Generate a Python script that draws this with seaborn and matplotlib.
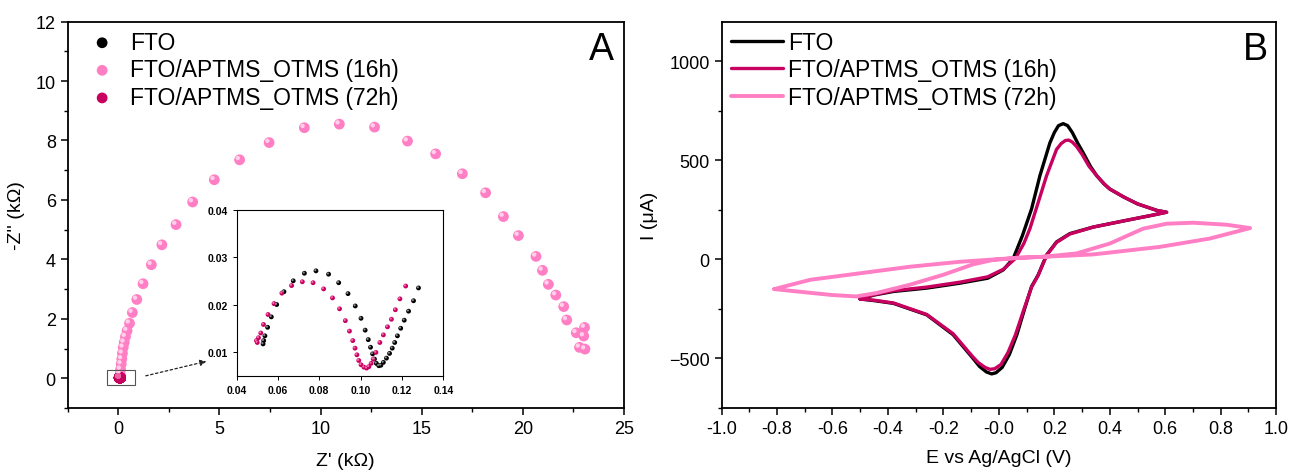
import numpy as np
import pandas as pd
import matplotlib.pyplot as plt
import seaborn as sns
from matplotlib.transforms import offset_copy
from matplotlib.patches import Rectangle
from matplotlib.ticker import MultipleLocator

sns.set_style("white")
plt.rcParams['font.family'] = ['Liberation Sans', 'DejaVu Sans']
plt.rcParams.update({'text.color': 'black', 'axes.labelcolor': 'black',
                     'xtick.color': 'black', 'ytick.color': 'black'})

labels = ["FTO", "FTO/APTMS_OTMS (16h)", "FTO/APTMS_OTMS (72h)"]
c_fto = "#000000"
c_16 = "#ff7ec4"
c_72 = "#c8005f"

# --- Nyquist data (kOhm) ---
z16_re = [0.10, 0.12, 0.15, 0.18, 0.21, 0.25, 0.30, 0.36, 0.44, 0.56, 0.70, 0.92, 1.23, 1.64,
          2.16, 2.86, 3.68, 4.75, 6.00, 7.46, 9.20, 10.93, 12.67, 14.30, 15.69, 17.01, 18.16,
          19.04, 19.78, 20.65, 20.97, 21.26, 21.63, 22.02, 22.17, 22.64, 23.05, 23.01, 22.80, 23.07]
z16_im = [0.15, 0.30, 0.48, 0.65, 0.84, 1.04, 1.21, 1.40, 1.60, 1.85, 2.21, 2.65, 3.18, 3.82,
          4.49, 5.17, 5.93, 6.68, 7.35, 7.93, 8.43, 8.55, 8.45, 7.98, 7.55, 6.88, 6.24,
          5.44, 4.80, 4.10, 3.63, 3.16, 2.80, 2.41, 1.96, 1.53, 1.71, 1.42, 1.04, 0.98]

fto_re = [0.0528, 0.0531, 0.0537, 0.0550, 0.0568, 0.0594, 0.0629, 0.0674, 0.0728, 0.0784,
          0.0845, 0.0894, 0.0939, 0.0974, 0.1002, 0.1022, 0.1037, 0.1048, 0.1058, 0.1067,
          0.1076, 0.1088, 0.1098, 0.1110, 0.1125, 0.1140, 0.1153, 0.1165, 0.1178, 0.1194,
          0.1211, 0.1232, 0.1256, 0.1280]
fto_im = [0.0117, 0.0124, 0.0134, 0.0152, 0.0174, 0.0200, 0.0227, 0.0250, 0.0266, 0.0271,
          0.0264, 0.0246, 0.0223, 0.0197, 0.0171, 0.0146, 0.0126, 0.0110, 0.0096, 0.0085,
          0.0076, 0.0071, 0.0072, 0.0078, 0.0087, 0.0097, 0.0108, 0.0120, 0.0134, 0.0150,
          0.0167, 0.0186, 0.0208, 0.0235]

h72_re = [0.0496, 0.0500, 0.0506, 0.0517, 0.0530, 0.0552, 0.0581, 0.0619, 0.0666, 0.0718,
          0.0770, 0.0821, 0.0864, 0.0898, 0.0926, 0.0946, 0.0962, 0.0973, 0.0982, 0.0991,
          0.1002, 0.1016, 0.1029, 0.1040, 0.1051, 0.1061, 0.1074, 0.1093, 0.1110, 0.1130,
          0.1149, 0.1168, 0.1190, 0.1218]
h72_im = [0.0124, 0.0120, 0.0130, 0.0140, 0.0158, 0.0179, 0.0202, 0.0224, 0.0240, 0.0248,
          0.0246, 0.0233, 0.0214, 0.0191, 0.0166, 0.0144, 0.0124, 0.0108, 0.0094, 0.0082,
          0.0073, 0.0068, 0.0066, 0.0069, 0.0076, 0.0085, 0.0099, 0.0120, 0.0136, 0.0153,
          0.0169, 0.0189, 0.0212, 0.0239]

# --- CV data (V, uA) ---
fto_E = [-0.50, -0.45, -0.38, -0.26, -0.14, -0.04, 0.016, 0.052, 0.085, 0.118, 0.148, 0.184,
         0.200, 0.215, 0.232, 0.248, 0.265, 0.285, 0.304, 0.330, 0.353, 0.38, 0.40, 0.45, 0.50,
         0.57, 0.605,
         0.55, 0.46, 0.34, 0.256, 0.208, 0.172, 0.142, 0.118, 0.095, 0.065, 0.038, 0.012,
         -0.01, -0.026, -0.045, -0.07, -0.093, -0.165, -0.26, -0.38, -0.45, -0.50]
fto_I = [-200, -180, -162, -145, -120, -95, -53, 5, 120, 255, 422, 588,
         640, 675, 685, 675, 640, 585, 538, 470, 422, 380, 355, 315, 280,
         247, 238,
         222, 197, 163, 130, 88, 22, -78, -137, -240, -380, -480, -545,
         -572, -578, -568, -540, -500, -380, -280, -222, -208, -200]

h16_E = [-0.50, -0.45, -0.38, -0.26, -0.14, -0.04, 0.016, 0.06, 0.09, 0.112, 0.142, 0.172,
         0.208, 0.225, 0.240, 0.252, 0.265, 0.280, 0.30, 0.325, 0.353, 0.38, 0.40, 0.45, 0.50,
         0.57, 0.605,
         0.55, 0.46, 0.34, 0.256, 0.208, 0.172, 0.142, 0.118, 0.092, 0.06, 0.033, 0.008,
         -0.015, -0.032, -0.05, -0.075, -0.095, -0.165, -0.26, -0.38, -0.45, -0.50]
h16_I = [-200, -178, -158, -140, -115, -88, -50, 5, 80, 155, 288, 422,
         555, 585, 600, 602, 592, 570, 530, 470, 422, 380, 355, 315, 280,
         247, 238,
         222, 197, 163, 128, 86, 20, -80, -140, -245, -380, -470, -530,
         -552, -555, -545, -520, -490, -375, -278, -220, -206, -200]

h72_E = [-0.81, -0.68, -0.50, -0.32, -0.14, 0.04, 0.16, 0.34, 0.58, 0.76, 0.906,
         0.82, 0.70, 0.605, 0.52, 0.40, 0.28, 0.16, 0.076, -0.021, -0.093, -0.201,
         -0.321, -0.442, -0.514, -0.60, -0.70, -0.81]
h72_I = [-150, -103, -70, -37, -12, 5, 13, 25, 63, 105, 158,
         175, 185, 180, 155, 80, 30, 13, 9, -3, -25, -78,
         -128, -170, -187, -180, -166, -150]

fig = plt.figure(figsize=(13, 4.77), dpi=100)
ax1 = fig.add_axes([0.052, 0.1426, 0.428, 0.81])
ax2 = fig.add_axes([0.555, 0.1426, 0.4267, 0.81])
axin = fig.add_axes([0.182, 0.2103, 0.159, 0.348])


def balls(ax, x, y, color, hl, s, label, hs, off):
    sns.scatterplot(x=x, y=y, color=color, s=s, edgecolor='none', ax=ax, label=label, zorder=3)
    tr = offset_copy(ax.transData, fig=fig, x=-off, y=off, units='points')
    ax.scatter(x, y, color=hl, s=hs, edgecolor='none', transform=tr, zorder=4, label='_nolegend_')


# panel A
balls(ax1, h72_re, h72_im, c_fto, "#777777", 60, labels[0], 10, 1.3)
balls(ax1, z16_re, z16_im, c_16, "#ffd0ea", 60, labels[1], 10, 1.3)
balls(ax1, h72_re, h72_im, c_72, "#ee66a6", 60, labels[2], 10, 1.3)
ax1.set_xlim(-2.5, 25)
ax1.set_ylim(-1, 12)
ax1.xaxis.set_major_locator(MultipleLocator(5))
ax1.xaxis.set_minor_locator(MultipleLocator(2.5))
ax1.yaxis.set_major_locator(MultipleLocator(2))
ax1.yaxis.set_minor_locator(MultipleLocator(1))
ax1.set_xlabel("Z' (k\u03a9)", fontsize=14, labelpad=11)
ax1.set_ylabel("-Z'' (k\u03a9)", fontsize=14, labelpad=8)
ax1.text(0.959, 0.93, "A", transform=ax1.transAxes, fontsize=27, ha='center', va='center')
ax1.legend(loc='upper left', frameon=False, fontsize=16.5, labelspacing=0.2, handlelength=1.0,
           handletextpad=0.7, borderaxespad=0.0, bbox_to_anchor=(0.025, 1.0))

ax1.add_patch(Rectangle((-0.55, -0.24), 1.36, 0.52, fill=False, edgecolor='#555555', lw=0.8, zorder=5))
ax1.annotate("", xy=(4.49, 0.59), xytext=(1.23, 0.06),
             arrowprops=dict(arrowstyle='-|>', linestyle=(0, (2, 2)), color='#222222', lw=0.9,
                             mutation_scale=9))

# inset
balls(axin, fto_re, fto_im, c_fto, "#888888", 12, None, 2.5, 0.5)
balls(axin, h72_re, h72_im, c_72, "#f070b0", 12, None, 2.5, 0.5)
axin.set_xlim(0.04, 0.14)
axin.set_ylim(0.005, 0.04)
axin.set_xticks([0.04, 0.06, 0.08, 0.10, 0.12, 0.14])
axin.set_yticks([0.01, 0.02, 0.03, 0.04])
axin.tick_params(labelsize=7.5, direction='out', length=3, width=0.7, left=True, bottom=True)
for t in axin.get_xticklabels() + axin.get_yticklabels():
    t.set_fontweight('bold')
for sp in axin.spines.values():
    sp.set_color('black')
    sp.set_linewidth(0.8)

# panel B
sns.lineplot(x=fto_E, y=fto_I, sort=False, estimator=None, color=c_fto, lw=2.4, ax=ax2, label=labels[0])
sns.lineplot(x=h16_E, y=h16_I, sort=False, estimator=None, color=c_72, lw=2.4, ax=ax2, label=labels[1])
sns.lineplot(x=h72_E, y=h72_I, sort=False, estimator=None, color=c_16, lw=2.8, ax=ax2, label=labels[2])
ax2.set_xlim(-1.0, 1.0)
ax2.set_ylim(-750, 1200)
ax2.xaxis.set_minor_locator(MultipleLocator(0.1))
ax2.yaxis.set_major_locator(MultipleLocator(500))
ax2.yaxis.set_minor_locator(MultipleLocator(250))
ax2.set_xticks(np.arange(-1.0, 1.01, 0.2))
ax2.set_xticklabels([f"{v:.1f}" for v in np.arange(-1.0, 1.01, 0.2)])
ax2.set_xlabel("E vs Ag/AgCl (V)", fontsize=14, labelpad=9)
ax2.set_ylabel("I (\u03bcA)", fontsize=14, labelpad=8)
ax2.text(0.962, 0.93, "B", transform=ax2.transAxes, fontsize=27, ha='center', va='center')
ax2.legend(loc='upper left', frameon=False, fontsize=16.5, labelspacing=0.2, handlelength=2.3,
           handletextpad=0.2, borderaxespad=0.0, bbox_to_anchor=(0.0, 1.0))

for ax in (ax1, ax2):
    ax.tick_params(axis='both', which='major', labelsize=13, direction='out', length=5, width=1.1,
                   left=True, bottom=True)
    ax.tick_params(axis='both', which='minor', direction='out', length=3, width=1.0,
                   left=True, bottom=True)
    for sp in ax.spines.values():
        sp.set_color('black')
        sp.set_linewidth(1.3)

fig.savefig("out.png", dpi=100, facecolor='white')
